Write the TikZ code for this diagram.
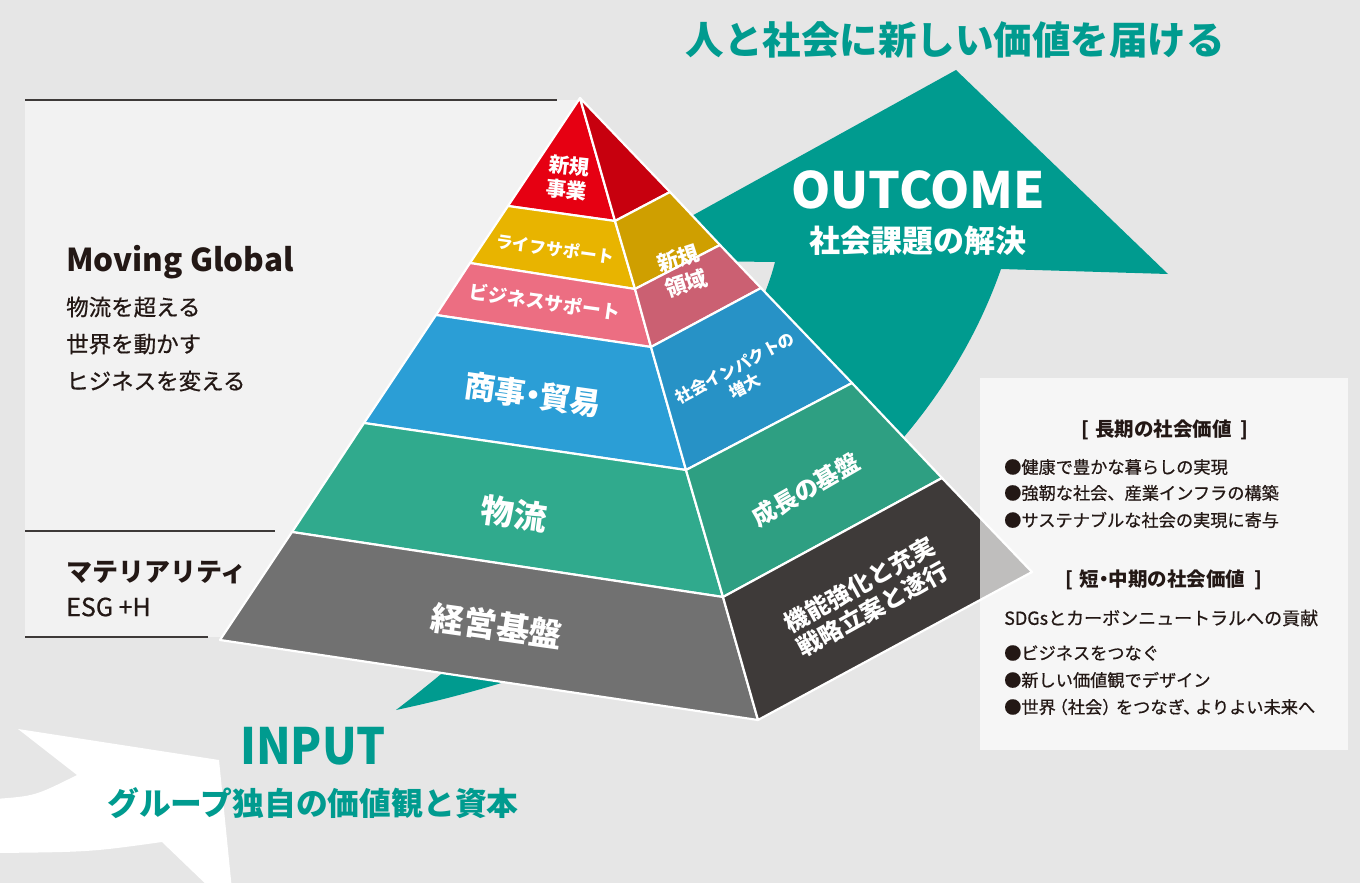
\documentclass[tikz,border=0pt]{standalone}
\usepackage{fontspec}
\setmainfont{Noto Sans CJK JP}
\newfontfamily\jpmed[FakeBold=0.6]{Noto Sans CJK JP}
\definecolor{bg}{HTML}{E6E6E6}
\definecolor{panelL}{HTML}{F2F2F2}
\definecolor{teal}{HTML}{009B8F}
\definecolor{ink}{HTML}{231815}
\definecolor{rule}{HTML}{3E3A39}
\definecolor{cRed}{HTML}{E60012}
\definecolor{cYel}{HTML}{E8B400}
\definecolor{cPink}{HTML}{EC6E82}
\definecolor{cBlue}{HTML}{2B9ED6}
\definecolor{cGreen}{HTML}{30AA8D}
\definecolor{cGray}{HTML}{717171}
\definecolor{dRed}{HTML}{C7000E}
\definecolor{dYel}{HTML}{CF9F00}
\definecolor{dPink}{HTML}{CB6072}
\definecolor{dBlue}{HTML}{2792C6}
\definecolor{dGreen}{HTML}{2E9F82}
\definecolor{dGray}{HTML}{3E3A39}
\begin{document}
\begin{tikzpicture}[x=1pt,y=-1pt,
  face/.style={draw=white,line width=2.2pt,line join=round},
  rulel/.style={draw=rule,line width=1.3pt},
  wlab/.style={text=white,align=center,inner sep=0pt},
  dlab/.style={text=ink,inner sep=0pt,anchor=west},
  tlab/.style={text=teal,inner sep=0pt}]
\useasboundingbox (0,0) rectangle (1360,883);
\fill[bg] (0,0) rectangle (1360,883);
% left panel
\fill[panelL] (25,100) rectangle (580,637);
\draw[rulel] (25,100) -- (557,100);
\draw[rulel] (25,531) -- (275,531);
\draw[rulel] (25,637) -- (208,637);
% white arrow bottom-left
\fill[white] (77,775) -- (18,729) -- (219,760) -- (232,890) -- (212,890) -- (162,842)
  .. controls (90,852) .. (-5,853) -- (-5,799) .. controls (35,796) .. (77,775) -- cycle;
% teal arrow
\fill[teal] (396,710) .. controls (680,650) and (920,500) .. (1001,269)
  -- (1168,274) -- (956,70) -- (612,260) -- (775,262)
  .. controls (740,400) and (540,600) .. (396,710) -- cycle;
% pyramid coordinates
\coordinate (A) at (580,98);
\coordinate (L1) at (508,206); \coordinate (R1) at (615,221); \coordinate (Q1) at (670,192);
\coordinate (L2) at (470,263); \coordinate (R2) at (635,289); \coordinate (Q2) at (720,245);
\coordinate (L3) at (436,315); \coordinate (R3) at (651,347); \coordinate (Q3) at (761,288);
\coordinate (L4) at (364,423); \coordinate (R4) at (686,470); \coordinate (Q4) at (852,383);
\coordinate (L5) at (292,532); \coordinate (R5) at (723,597); \coordinate (Q5) at (942,478);
\coordinate (L6) at (220,640); \coordinate (R6) at (758,720); \coordinate (Q6) at (1032,572);
% left faces
\draw[face,fill=cRed]   (A) -- (L1) -- (R1) -- cycle;
\draw[face,fill=cYel]   (L1) -- (L2) -- (R2) -- (R1) -- cycle;
\draw[face,fill=cPink]  (L2) -- (L3) -- (R3) -- (R2) -- cycle;
\draw[face,fill=cBlue]  (L3) -- (L4) -- (R4) -- (R3) -- cycle;
\draw[face,fill=cGreen] (L4) -- (L5) -- (R5) -- (R4) -- cycle;
\draw[face,fill=cGray]  (L5) -- (L6) -- (R6) -- (R5) -- cycle;
% right faces
\draw[face,fill=dRed]   (A) -- (R1) -- (Q1) -- cycle;
\draw[face,fill=dYel]   (R1) -- (R2) -- (Q2) -- (Q1) -- cycle;
\draw[face,fill=dPink]  (R2) -- (R3) -- (Q3) -- (Q2) -- cycle;
\draw[face,fill=dBlue]  (R3) -- (R4) -- (Q4) -- (Q3) -- cycle;
\draw[face,fill=dGreen] (R4) -- (R5) -- (Q5) -- (Q4) -- cycle;
\draw[face,fill=dGray]  (R5) -- (R6) -- (Q6) -- (Q5) -- cycle;
% right panel (translucent)
\fill[white,fill opacity=0.67] (980,378) rectangle (1348,750);
% pyramid labels
\node[wlab,rotate=-6,font=\bfseries\fontsize{20.5}{24}\selectfont] (t1) at (568,178) {新規\\事業};
\node[wlab,rotate=-8,font=\bfseries\fontsize{17}{20}\selectfont] (t2) at (555,249) {ライフサポート};
\node[wlab,rotate=-8,font=\bfseries\fontsize{19}{22}\selectfont] (t3) at (545,302) {ビジネスサポート};
\node[wlab,rotate=-8,font=\bfseries\fontsize{31}{34}\selectfont] (t4) at (533,395) {商事\kern-0.28em・\kern-0.28em貿易};
\node[wlab,rotate=-8,font=\bfseries\fontsize{33}{36}\selectfont] (t5) at (514,514) {物流};
\node[wlab,rotate=-8,font=\bfseries\fontsize{33}{36}\selectfont] (t6) at (497,626) {経営基盤};
\node[wlab,rotate=18,font=\bfseries\fontsize{21.5}{26}\selectfont] (s1) at (682,271) {新規\\領域};
\node[wlab,rotate=28,font=\bfseries\fontsize{16.5}{21}\selectfont] (s2) at (740,377) {社会インパクトの\\増大};
\node[wlab,rotate=30,font=\bfseries\fontsize{24}{28}\selectfont] (s3) at (806,490) {成長の基盤};
\node[wlab,rotate=29,font=\bfseries\fontsize{24}{28}\selectfont] (s4) at (866,597) {機能強化と充実\\戦略立案と遂行};
% headline and arrow labels
\node[tlab,font=\bfseries\fontsize{38.5}{42}\selectfont] (head) at (955,40) {人と社会に新しい価値を届ける};
\node[wlab,font=\bfseries\fontsize{50}{54}\selectfont] (out) at (918,190) {OUTCOME};
\node[wlab,font=\bfseries\fontsize{31}{34}\selectfont] (outs) at (918,241) {社会課題の解決};
\node[tlab,font=\bfseries\fontsize{50}{54}\selectfont] (inp) at (313,746) {\scalebox{0.91}[1]{INPUT}};
\node[tlab,font=\bfseries\fontsize{31.8}{35}\selectfont] (inps) at (313,803) {グループ独自の価値観と資本};
% left panel texts
\node[dlab,font=\bfseries\fontsize{31.5}{36}\selectfont] (mg) at (66,262) {Moving Global};
\node[dlab,font=\jpmed\fontsize{22.5}{26}\selectfont] (mg1) at (66,307) {物流を超える};
\node[dlab,font=\jpmed\fontsize{22.5}{26}\selectfont] (mg2) at (66,344) {世界を動かす};
\node[dlab,font=\jpmed\fontsize{22.5}{26}\selectfont] (mg3) at (66,381) {ヒジネスを変える};
\node[dlab,font=\bfseries\fontsize{26}{30}\selectfont] (mat) at (66,572) {マテリアリティ};
\node[dlab,font=\jpmed\fontsize{25}{28}\selectfont] (esg) at (66,607) {ESG +H};
% right panel texts
\node[text=ink,inner sep=0pt,font=\bfseries\fontsize{19.5}{22}\selectfont] (h1) at (1165,430) {[\hspace{6pt}長期の社会価値\hspace{9pt}]};
\node[dlab,font=\jpmed\fontsize{17.2}{20}\selectfont] (b1) at (1004,467) {●健康で豊かな暮らしの実現};
\node[dlab,font=\jpmed\fontsize{17.2}{20}\selectfont] (b2) at (1004,493) {●強靭な社会、産業インフラの構築};
\node[dlab,font=\jpmed\fontsize{17.2}{20}\selectfont] (b3) at (1004,520) {●サステナブルな社会の実現に寄与};
\node[text=ink,inner sep=0pt,font=\bfseries\fontsize{19.5}{22}\selectfont] (h2) at (1164,580) {[\hspace{6pt}短\kern-0.25em・\kern-0.25em中期の社会価値\hspace{9pt}]};
\node[dlab,font=\jpmed\fontsize{18}{20}\selectfont] (sdg) at (1004,618) {SDGsとカーボンニュートラルへの貢献};
\node[dlab,font=\jpmed\fontsize{17.2}{20}\selectfont] (c1) at (1004,653) {●ビジネスをつなぐ};
\node[dlab,font=\jpmed\fontsize{17.2}{20}\selectfont] (c2) at (1004,680) {●新しい価値観でデザイン};
\node[dlab,font=\jpmed\fontsize{17.2}{20}\selectfont] (c3) at (1004,707) {●世界\kern-0.3em（社会）\kern-0.2emをつなぎ\kern-0.1em、\kern-0.3emよりよい未来へ};
\end{tikzpicture}
\end{document}
